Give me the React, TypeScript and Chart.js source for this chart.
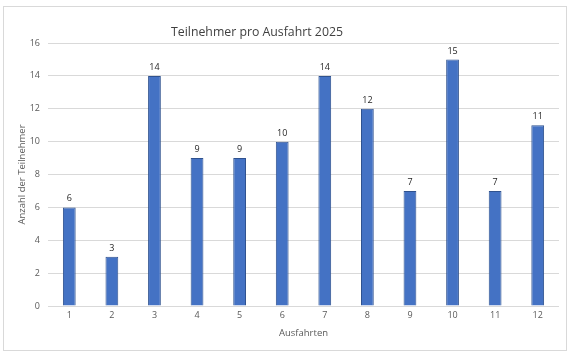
import React, { useEffect, useRef } from "react";
import { Chart, registerables } from "chart.js";

Chart.register(...registerables);

const categories = ["1", "2", "3", "4", "5", "6", "7", "8", "9", "10", "11", "12"];
const participants = [6, 3, 14, 9, 9, 10, 14, 12, 7, 15, 7, 11];
const chartTitle = "Teilnehmer pro Ausfahrt 2025";
const yAxisTitle = "Anzahl der Teilnehmer";
const xAxisTitle = "Ausfahrten";
const yMin = 0;
const yMax = 16;
const yStep = 2;

const FONT = "'Open Sans', 'Noto Sans', sans-serif";

const titlePlugin = {
  id: "offsetTitle",
  afterDraw(chart: any) {
    const ctx = chart.ctx;
    ctx.save();
    ctx.font = `12.3px ${FONT}`;
    ctx.fillStyle = "#404040";
    ctx.textAlign = "center";
    ctx.textBaseline = "middle";
    ctx.fillText(chartTitle, 257, 32);
    ctx.restore();
  },
};

const labelPlugin = {
  id: "barLabels",
  afterDatasetsDraw(chart: any) {
    const ctx = chart.ctx;
    const meta = chart.getDatasetMeta(0);
    ctx.save();
    ctx.font = `9px ${FONT}`;
    ctx.fillStyle = "#262626";
    ctx.textAlign = "center";
    ctx.textBaseline = "bottom";
    meta.data.forEach((bar: any, i: number) => {
      ctx.fillText(String(participants[i]), bar.x, bar.y - 4);
    });
    ctx.restore();
  },
};

export default function App() {
  const ref = useRef<HTMLCanvasElement | null>(null);
  useEffect(() => {
    if (!ref.current) return;
    const chart = new Chart(ref.current, {
      type: "bar",
      data: {
        labels: categories,
        datasets: [
          {
            data: participants,
            backgroundColor: "#4472C4",
            borderColor: "#2F528F",
            borderWidth: 1,
            barPercentage: 0.3,
            categoryPercentage: 1,
          },
        ],
      },
      options: {
        responsive: false,
        animation: false,
        layout: { padding: { left: 10, right: 17, top: 43, bottom: 18 } },
        plugins: {
          legend: { display: false },
          title: { display: false },
          tooltip: { enabled: false },
        },
        scales: {
          x: {
            grid: { display: false, drawTicks: false },
            border: { display: false },
            ticks: { color: "#595959", font: { family: FONT, size: 9 }, padding: 4, maxRotation: 0 },
            title: { display: true, text: xAxisTitle, color: "#595959", font: { family: FONT, size: 9.5 }, padding: { top: 4, bottom: 0 } },
            afterFit: (s: any) => { s.height = 33; },
          },
          y: {
            min: yMin,
            max: yMax,
            ticks: { stepSize: yStep, color: "#595959", font: { family: FONT, size: 9 }, padding: 8 },
            grid: { color: "#d9d9d9", lineWidth: 1, drawTicks: false },
            border: { display: false },
            title: { display: true, text: yAxisTitle, color: "#595959", font: { family: FONT, size: 9.5 }, padding: { top: 7, bottom: 0 } },
            afterFit: (s: any) => { s.width = 38; },
          },
        },
      },
      plugins: [titlePlugin, labelPlugin],
    });
    return () => chart.destroy();
  }, []);
  return (
    <div style={{ position: "fixed", left: 0, top: 0, width: 576, height: 357, background: "#fff" }}>
      <div style={{ position: "absolute", left: 3, top: 6, width: 562, height: 343, border: "1px solid #d9d9d9" }} />
      <canvas ref={ref} width={576} height={357} style={{ position: "absolute", left: 0, top: 0, width: 576, height: 357 }} />
    </div>
  );
}
